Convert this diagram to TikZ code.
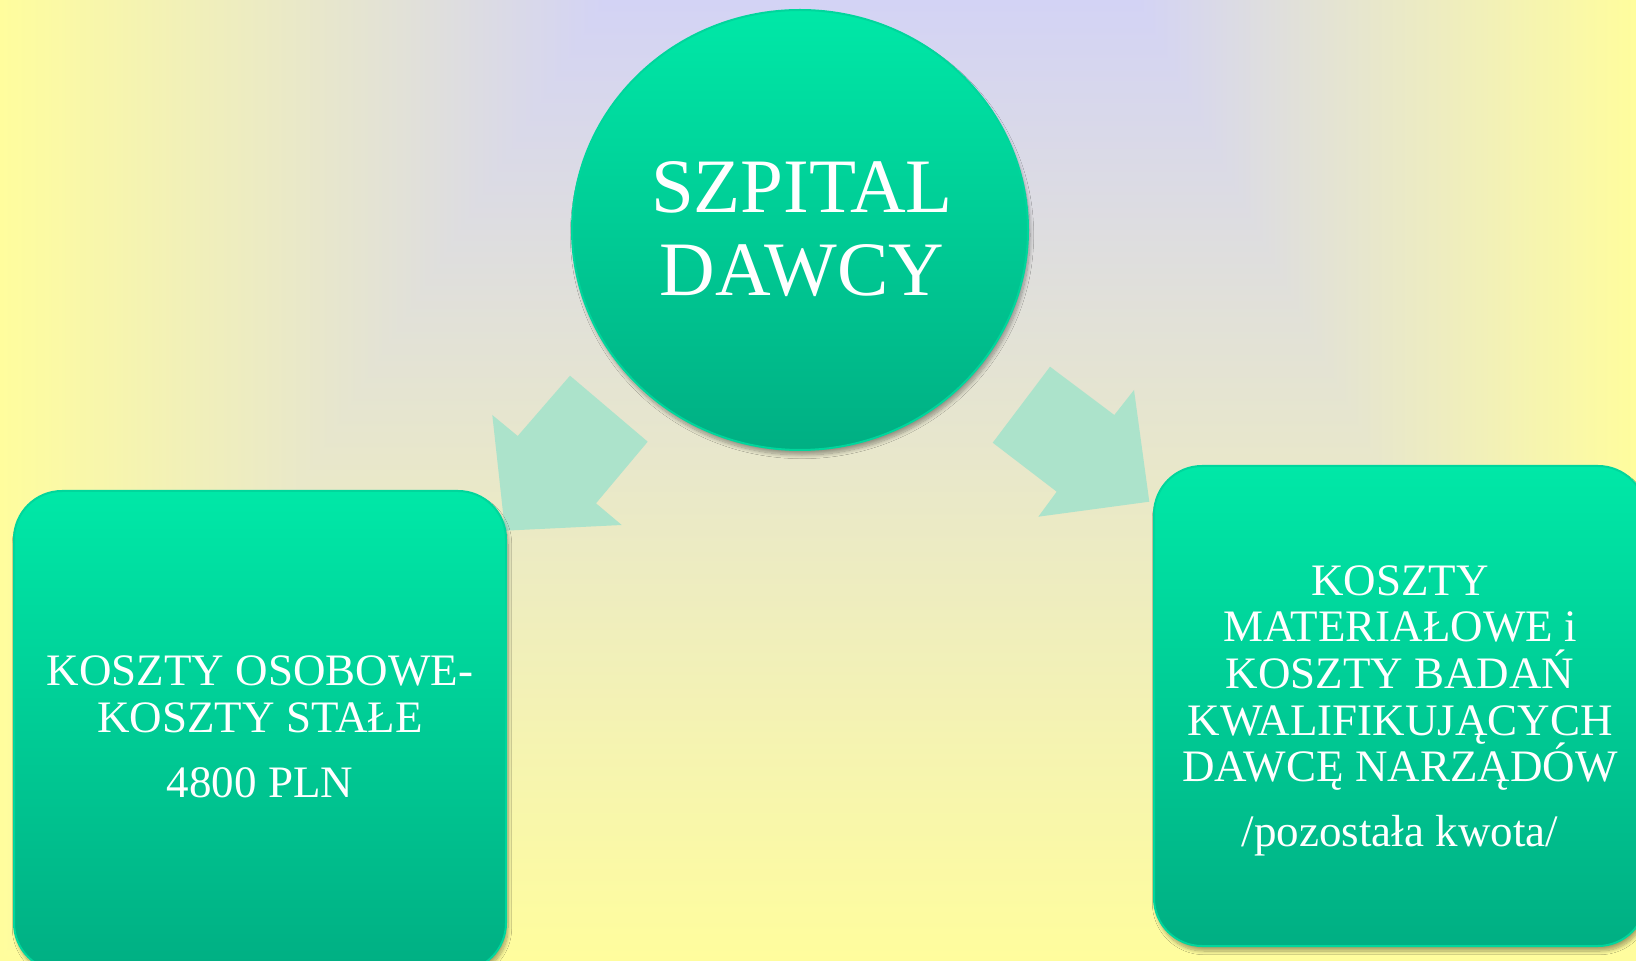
\documentclass[tikz,border=0pt]{standalone}
\usepackage{fontspec}
\setmainfont{Liberation Serif}
\usetikzlibrary{shapes.geometric,shadows.blur}
\definecolor{bgY}{RGB}{255,253,157}
\definecolor{bgL}{RGB}{211,211,245}
\definecolor{boxTop}{RGB}{0,232,167}
\definecolor{boxBot}{RGB}{0,175,131}
\definecolor{edgeG}{RGB}{0,214,156}
\definecolor{arrowG}{RGB}{172,227,203}
\begin{document}
\begin{tikzpicture}[x=0.5pt,y=-0.5pt,
  panel/.style={draw=edgeG, line width=1pt, top color=boxTop, bottom color=boxBot,
    blur shadow={shadow xshift=1pt, shadow yshift=-2.5pt, shadow blur steps=10, shadow opacity=35}},
  boxshape/.style={panel, rectangle, rounded corners=24pt, minimum width=246pt, minimum height=240pt, inner sep=0pt},
  hub/.style={panel, ellipse, minimum width=228pt, minimum height=220pt, inner sep=0pt},
  txt/.style={text=white, align=center, inner sep=0pt},
  bigtxt/.style={txt, font={\fontsize{38.5}{41.35}\selectfont\lineskiplimit=-100pt}},
  smalltxt/.style={txt, font={\fontsize{22.5}{23.35}\selectfont\lineskiplimit=-100pt}},
  blockarrow/.style={fill=arrowG, draw=none}]
\useasboundingbox (0,0) rectangle (1636,961);
\clip (0,0) rectangle (1636,961);
% background: rectangular path gradient from a segment at the top
\shade[top color=bgL, bottom color=bgY] (0,0) rectangle (1636,961);
\shade[left color=bgY, right color=bgL] (0,0) -- (605,0) -- (0,961) -- cycle;
\shade[left color=bgL, right color=bgY] (1138,0) -- (1636,0) -- (1636,961) -- cycle;
% block arrows
\fill[blockarrow] (570,375.7) -- (647.7,441.7) -- (596,503.3) -- (621.7,525) -- (505,530.7) -- (492.3,415) -- (517.7,436) -- cycle;
\fill[blockarrow] (992.7,442.7) -- (1050,366.7) -- (1114.3,415) -- (1134,390) -- (1149.3,501.7) -- (1038.3,516.7) -- (1056.7,491.7) -- cycle;
% shapes
\node[hub] (hub) at (800,230) {};
\node[boxshape] (left) at (260,731) {};
\node[boxshape] (right) at (1400,706) {};
% texts
\node[bigtxt] (hubtext) at (802,229) {SZPITAL\\DAWCY};
\node[smalltxt] (lefttext) at (260,727) {KOSZTY OSOBOWE-\\KOSZTY STAŁE\\[9.15pt]4800 PLN};
\node[smalltxt] (righttext) at (1400,710.8) {KOSZTY\\MATERIAŁOWE i\\KOSZTY BADAŃ\\KWALIFIKUJĄCYCH\\DAWCĘ NARZĄDÓW\\[9.15pt]/pozostała kwota/};
\end{tikzpicture}
\end{document}
